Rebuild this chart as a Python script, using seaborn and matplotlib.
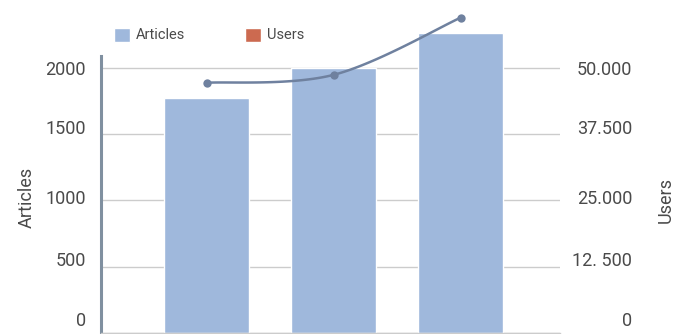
import numpy as np
import pandas as pd
import matplotlib
matplotlib.use("Agg")
import matplotlib.pyplot as plt
from matplotlib.patches import Patch
from matplotlib.transforms import ScaledTranslation
import seaborn as sns

categories = ["A", "B", "C"]
articles = [1770, 2000, 2265]
users = [47200, 48700, 59500]
left_ticks = [0, 500, 1000, 1500, 2000]
right_ticks = [0, 12500, 25000, 37500, 50000]
right_tick_labels = ["0", "12. 500", "25.000", "37.500", "50.000"]

sns.set_theme(style="white")
plt.rcParams["font.family"] = ["Roboto", "DejaVu Sans"]

bar_color = "#9fb8dc"
line_color = "#6f819f"
text_color = "#4a4a4a"

fig = plt.figure(figsize=(6.8, 3.34), dpi=100)
ax = fig.add_axes([101 / 680, 1 / 334, 459 / 680, 277 / 334])

df = pd.DataFrame({"cat": categories, "articles": articles, "users": users})
sns.barplot(data=df, x="cat", y="articles", color=bar_color, width=0.67,
            saturation=1, ax=ax, zorder=2)
for p in ax.patches:
    p.set_clip_on(False)

ymax = 2090
ax.set_ylim(0, ymax)
ax.set_xlim(-0.83, 2.78)
ax.set_yticks(left_ticks)
ax.set_yticklabels([str(t) for t in left_ticks])
ax.yaxis.grid(True, color="#cccccc", linewidth=1, zorder=0)
ax.set_axisbelow(True)
ax.set_xticks([])
ax.set_xlabel("")
ax.tick_params(axis="y", length=0, pad=11, labelsize=13, labelcolor=text_color)
for s in ["top", "right"]:
    ax.spines[s].set_visible(False)
ax.spines["left"].set_color("#8090a0")
ax.spines["left"].set_linewidth(2.2)
ax.spines["bottom"].set_color("#cccccc")
ax.spines["bottom"].set_linewidth(1)
ax.set_ylabel("Articles", fontsize=13, color=text_color)
ax.yaxis.set_label_coords((36 - 101) / 459, 0.49)

ax2 = ax.twinx()
ax2.set_ylim(0, ymax * 25)
ax2.set_yticks(right_ticks)
ax2.set_yticklabels(right_tick_labels)
for lab in ax2.get_yticklabels():
    lab.set_ha("right")
ax2.tick_params(axis="y", length=0, pad=52, labelsize=13, labelcolor=text_color)
for s in ax2.spines.values():
    s.set_visible(False)
ax2.grid(False)
ax2.set_ylabel("Users", fontsize=13, color=text_color)
ax2.yaxis.set_label_coords((657 - 101) / 459, 0.48)

# labels sit slightly above their gridlines in the reference (pixels up)
label_shift_px = [14, 8, 3, 7, 0]
for labs in (ax.get_yticklabels(), ax2.get_yticklabels()):
    for lab, dy in zip(labs, label_shift_px):
        lab.set_transform(lab.get_transform()
                          + ScaledTranslation(0, dy / 100, fig.dpi_scale_trans))

# smooth (Catmull-Rom) rendering of the line through the data points
xs = np.arange(len(users), dtype=float)
ys = np.array(users, dtype=float)
px = np.concatenate([[xs[0]], xs, [xs[-1]]])
py = np.concatenate([[ys[0]], ys, [ys[-1]]])
cx, cy = [], []
t = np.linspace(0, 1, 40)
for i in range(1, len(px) - 2):
    for arr, out in ((px, cx), (py, cy)):
        p0, p1, p2, p3 = arr[i - 1], arr[i], arr[i + 1], arr[i + 2]
        out.extend(0.5 * ((2 * p1) + (-p0 + p2) * t
                          + (2 * p0 - 5 * p1 + 4 * p2 - p3) * t ** 2
                          + (-p0 + 3 * p1 - 3 * p2 + p3) * t ** 3))
ax2.plot(cx, cy, color=line_color, linewidth=1.8, clip_on=False, zorder=3)
sns.scatterplot(x=xs, y=ys, ax=ax2, color=line_color, s=36, edgecolor=line_color,
                linewidth=0, zorder=4, clip_on=False)

handles = [Patch(facecolor=bar_color, label="Articles"),
           Patch(facecolor="#cc6a50", label="Users")]
fig.legend(handles=handles, ncol=2, frameon=False, loc="center left",
           bbox_to_anchor=(101 / 680, 1 - 35 / 334), fontsize=10.5,
           handlelength=1.1, handleheight=1.1, handletextpad=0.4,
           columnspacing=4.1, labelcolor=text_color)

fig.savefig("out.png", dpi=100)
